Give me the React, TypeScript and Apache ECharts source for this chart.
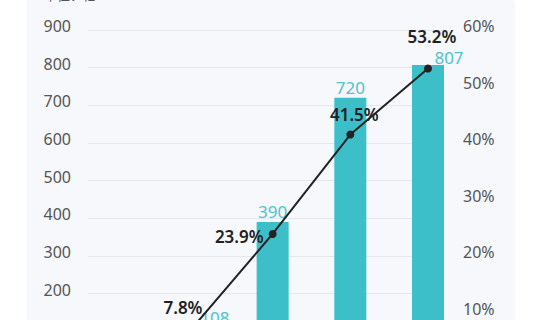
import React, { useEffect, useRef } from "react";
import * as echarts from "echarts";

// Data
const slots = [0, 1, 2, 3]; // category positions (x-axis labels are cropped out of view)
const amounts = [108, 390, 720, 807]; // 单位：亿
const shares = [7.8, 23.9, 41.5, 53.2]; // %
const unitLabel = "单位：亿";
const leftAxis = { min: 0, max: 900, interval: 100 };
const rightAxis = { min: 0, max: 60, interval: 10 };

// label nudges (style only)
const barLabelShift = [[20, 0], [0, 0], [0, 0], [21, 3]];
const lineLabelPos = ["top", "left", "top", "top"];
const lineLabelShift = [[-12, 0], [0, 3], [4, -3], [4, -14]];

export default function App() {
  const ref = useRef<HTMLDivElement>(null);
  useEffect(() => {
    document.body.style.margin = "0";
    const chart = echarts.init(ref.current!, null, { renderer: "svg" });
    const font = "'Noto Sans', 'Noto Sans CJK SC', sans-serif";
    const axisLabelBase = {
      color: "#555",
      fontSize: 16,
      fontFamily: font,
      verticalAlign: "bottom",
      lineHeight: 8,
    };
    chart.setOption({
      animation: false,
      textStyle: { fontFamily: font },
      grid: { left: 88, right: 96, top: 30, bottom: 31 },
      graphic: [
        {
          type: "text",
          left: 44,
          top: -12,
          style: { text: unitLabel, fill: "#555", font: `13px ${font}` },
        },
      ],
      xAxis: {
        type: "value",
        min: -1.377,
        max: 3.206,
        show: false,
      },
      yAxis: [
        {
          type: "value",
          ...leftAxis,
          axisLine: { show: false },
          axisTick: { show: false },
          splitLine: { lineStyle: { color: "#e4e7eb", width: 1 } },
          axisLabel: { ...axisLabelBase, margin: 17 },
        },
        {
          type: "value",
          ...rightAxis,
          position: "right",
          axisLine: { show: false },
          axisTick: { show: false },
          splitLine: { show: false },
          axisLabel: { ...axisLabelBase, margin: 19, formatter: "{value}%" },
        },
      ],
      series: [
        {
          type: "bar",
          yAxisIndex: 0,
          barWidth: 32,
          itemStyle: { color: "#3dbfca" },
          data: slots.map((s, i) => ({
            value: [s, amounts[i]],
            label: { offset: barLabelShift[i] },
          })),
          label: {
            show: true,
            position: "top",
            distance: 2,
            color: "#4fc3cc",
            fontSize: 17,
            fontFamily: font,
            formatter: (p: any) => String(p.value[1]),
          },
        },
        {
          type: "line",
          yAxisIndex: 1,
          symbol: "circle",
          symbolSize: 8,
          lineStyle: { color: "#222", width: 2 },
          itemStyle: { color: "#222" },
          data: slots.map((s, i) => ({
            value: [s, shares[i]],
            label: { position: lineLabelPos[i], offset: lineLabelShift[i] },
          })),
          label: {
            show: true,
            color: "#222",
            fontSize: 17,
            fontWeight: 600,
            fontFamily: font,
            formatter: (p: any) => `${p.value[1]}%`,
          },
          z: 5,
        },
      ],
    });
    return () => chart.dispose();
  }, []);
  return (
    <div style={{ position: "relative", width: 540, height: 320, overflow: "hidden", background: "#fff" }}>
      <div
        style={{
          position: "absolute",
          left: 27,
          top: 0,
          width: 486,
          height: 400,
          background: "#f6f8fb",
          boxShadow: "1px 0 3px rgba(0,0,0,0.06)",
        }}
      />
      <div ref={ref} style={{ position: "absolute", left: 0, top: 0, width: 540, height: 400 }} />
    </div>
  );
}
